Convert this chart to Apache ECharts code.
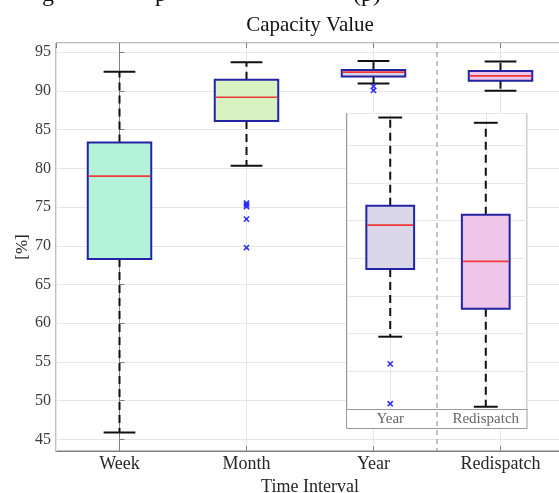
<!DOCTYPE html>
<html>
<head>
<meta charset="utf-8">
<script src="https://cdn.jsdelivr.net/npm/echarts@6/dist/echarts.min.js"></script>
<style>
  html, body { margin: 0; padding: 0; background: #ffffff; }
  #chart { width: 559px; height: 493px; }
</style>
</head>
<body>
<div id="chart"></div>
<script>
// Categories on the time-interval axis
const categories = ['Week', 'Month', 'Year', 'Redispatch'];
// Box statistics per category: [lower whisker, Q1, median, Q3, upper whisker] in %
const lowerWhisker = [45.9, 80.33, 90.96, 90.03];
const quartile1    = [68.3, 86.13, 91.86, 91.33];
const medians      = [79.0, 89.19, 92.44, 91.96];
const quartile3    = [83.35, 91.46, 92.70, 92.58];
const upperWhisker = [92.5, 93.71, 93.87, 93.80];
// Outliers per category in %
const outliers = [
  [],
  [75.51, 75.28, 75.07, 73.45, 69.78],
  [90.60, 90.07],
  []
];
// Categories repeated in the zoomed inset
const insetCategories = ['Year', 'Redispatch'];
const insetSource = [2, 3];

// Styling
const boxFills = ['#b4f3da', '#d9f2c1', '#d9d7e8', '#efc6e9'];
const SERIF = '"Liberation Serif", "DejaVu Serif", serif';
const EDGE = '#2424a2';
const MEDIAN = '#ee3a3a';

function boxRows(indices, xs) {
  return indices.map((k, j) => [xs[j], lowerWhisker[k], quartile1[k], medians[k], quartile3[k], upperWhisker[k]]);
}
function outlierRows(indices, xs) {
  const rows = [];
  indices.forEach((k, j) => outliers[k].forEach(v => rows.push([xs[j], v])));
  return rows;
}

function makeBoxRenderer(fillIndex) {
  return function (params, api) {
    const x = api.value(0);
    const pLo = api.coord([x, api.value(1)]);
    const pQ1 = api.coord([x, api.value(2)]);
    const pMed = api.coord([x, api.value(3)]);
    const pQ3 = api.coord([x, api.value(4)]);
    const pHi = api.coord([x, api.value(5)]);
    const boxW = api.size([0.5, 0])[0];
    const capW = api.size([0.25, 0])[0];
    const cx = pLo[0];
    const whisker = { stroke: '#111', lineWidth: 2, lineDash: [8, 5] };
    const cap = { stroke: '#111', lineWidth: 2 };
    return {
      type: 'group',
      children: [
        { type: 'line', shape: { x1: cx, y1: pQ3[1], x2: cx, y2: pHi[1] }, style: whisker },
        { type: 'line', shape: { x1: cx, y1: pQ1[1], x2: cx, y2: pLo[1] }, style: whisker },
        { type: 'line', shape: { x1: cx - capW / 2, y1: pHi[1], x2: cx + capW / 2, y2: pHi[1] }, style: cap },
        { type: 'line', shape: { x1: cx - capW / 2, y1: pLo[1], x2: cx + capW / 2, y2: pLo[1] }, style: cap },
        { type: 'rect', shape: { x: cx - boxW / 2, y: pQ3[1], width: boxW, height: pQ1[1] - pQ3[1] },
          style: { fill: boxFills[fillIndex(params.dataIndex)], stroke: EDGE, lineWidth: 2 } },
        { type: 'line', shape: { x1: cx - boxW / 2 + 1, y1: pMed[1], x2: cx + boxW / 2 - 1, y2: pMed[1] },
          style: { stroke: MEDIAN, lineWidth: 1.7 } }
      ]
    };
  };
}

function renderOutlier(params, api) {
  const p = api.coord([api.value(0), api.value(1)]);
  const r = 2.6;
  const st = { stroke: '#2b2bff', lineWidth: 1.5 };
  return {
    type: 'group',
    children: [
      { type: 'line', shape: { x1: p[0] - r, y1: p[1] - r, x2: p[0] + r, y2: p[1] + r }, style: st },
      { type: 'line', shape: { x1: p[0] - r, y1: p[1] + r, x2: p[0] + r, y2: p[1] - r }, style: st }
    ]
  };
}

// Dashed separator between the interval categories and the redispatch category
function renderSeparator(params, api) {
  const cs = params.coordSys;
  const x = (api.coord([insetSource[0], 50])[0] + api.coord([insetSource[1], 50])[0]) / 2;
  return {
    type: 'line',
    shape: { x1: x, y1: cs.y, x2: x, y2: cs.y + cs.height },
    style: { stroke: '#9a9a9a', lineWidth: 1.2, lineDash: [5, 4] }
  };
}

const mainX = categories.map((c, i) => i);
const insetX = insetCategories.map((c, i) => i);

const chart = echarts.init(document.getElementById('chart'), null, { renderer: 'canvas' });

const option = {
  animation: false,
  backgroundColor: '#ffffff',
  grid: [
    { left: 56, top: 43, width: 508, height: 408, outerBoundsMode: 'none', containLabel: false,
      show: true, borderColor: '#808080', borderWidth: 1, backgroundColor: 'transparent' },
    { left: 347, top: 113, width: 180, height: 296, outerBoundsMode: 'none', containLabel: false, show: false }
  ],
  xAxis: [
    {
      gridIndex: 0, type: 'value', min: -0.5, max: 3.5, minInterval: 1, maxInterval: 1,
      axisLine: { show: true, lineStyle: { color: '#808080' } },
      axisTick: { show: true, inside: true, length: 5, lineStyle: { color: '#808080' } },
      splitLine: { show: true, lineStyle: { color: '#e6e6e6', width: 1 } },
      axisLabel: {
        showMinLabel: false, showMaxLabel: false, margin: 4,
        fontFamily: SERIF, fontSize: 18, color: '#262626',
        formatter: v => (Number.isInteger(v) && categories[v]) ? categories[v] : ''
      },
      name: 'Time Interval', nameLocation: 'middle', nameGap: 27, nameMoveOverlap: false,
      nameTextStyle: { fontFamily: SERIF, fontSize: 18, color: '#262626' }
    },
    {
      // mirrored tick marks along the top edge of the frame
      gridIndex: 0, type: 'value', position: 'top', min: -0.5, max: 3.5, minInterval: 1, maxInterval: 1,
      axisLine: { show: false },
      axisTick: { show: true, inside: true, length: 5, lineStyle: { color: '#808080' } },
      splitLine: { show: false }, axisLabel: { show: false }
    },
    {
      gridIndex: 1, type: 'value', min: -0.4525, max: 1.4316, minInterval: 1, maxInterval: 1, z: 4,
      axisLine: { show: true, onZero: false, lineStyle: { color: '#9a9a9a' } },
      axisTick: { show: false },
      splitLine: { show: true, lineStyle: { color: '#e6e6e6', width: 1 } },
      axisLabel: {
        showMinLabel: false, showMaxLabel: false, margin: 3,
        fontFamily: SERIF, fontSize: 15, color: '#666666',
        formatter: v => (Number.isInteger(v) && insetCategories[v]) ? insetCategories[v] : ''
      }
    }
  ],
  yAxis: [
    {
      gridIndex: 0, type: 'value', min: 43.5, max: 96.2, minInterval: 5, maxInterval: 5,
      axisLine: { show: true, lineStyle: { color: '#808080' } },
      axisTick: { show: true, inside: true, length: 5, lineStyle: { color: '#808080' } },
      splitLine: { show: true, lineStyle: { color: '#e6e6e6', width: 1 } },
      axisLabel: { showMinLabel: false, showMaxLabel: false, margin: 5, fontFamily: SERIF, fontSize: 16, color: '#3a3a3a' },
      name: '[%]', nameLocation: 'middle', nameGap: 25, nameRotate: 90, nameMoveOverlap: false,
      nameTextStyle: { fontFamily: SERIF, fontSize: 17, color: '#262626' }
    },
    {
      gridIndex: 1, type: 'value', min: 90, max: 93.93, minInterval: 0.5, maxInterval: 0.5, z: 4,
      axisLine: { show: false }, axisTick: { show: false }, axisLabel: { show: false },
      splitLine: { show: true, lineStyle: { color: '#e8e8e8', width: 1 } }
    }
  ],
  graphic: [
    { type: 'rect', z: 3, shape: { x: 346.5, y: 113.5, width: 180.5, height: 315 },
      style: { fill: '#ffffff', stroke: '#9a9a9a', lineWidth: 1 } },
    { type: 'text', z: 3, x: 310, y: 15, style: { text: 'Capacity Value', font: '21px ' + SERIF, fill: '#111', textAlign: 'center' } },
    // bottom edge of the figure heading line above the chart
    { type: 'text', z: 3, x: 48, y: -17, style: { text: 'g', font: '24px ' + SERIF, fill: '#111', textAlign: 'center' } },
    { type: 'text', z: 3, x: 161, y: -17, style: { text: 'p', font: '24px ' + SERIF, fill: '#111', textAlign: 'center' } },
    { type: 'text', z: 3, x: 367, y: -17, style: { text: '(p)', font: '24px ' + SERIF, fill: '#111', textAlign: 'center' } }
  ],
  series: [
    { type: 'custom', xAxisIndex: 0, yAxisIndex: 0, z: 2, renderItem: makeBoxRenderer(i => i),
      data: boxRows(mainX, mainX), encode: { x: 0, y: [1, 2, 3, 4, 5] } },
    { type: 'custom', xAxisIndex: 0, yAxisIndex: 0, z: 2, renderItem: renderOutlier,
      data: outlierRows(mainX, mainX), encode: { x: 0, y: 1 } },
    { type: 'custom', xAxisIndex: 2, yAxisIndex: 1, z: 5, renderItem: makeBoxRenderer(i => insetSource[i]),
      data: boxRows(insetSource, insetX), encode: { x: 0, y: [1, 2, 3, 4, 5] } },
    { type: 'custom', xAxisIndex: 2, yAxisIndex: 1, z: 5, renderItem: renderOutlier,
      data: outlierRows(insetSource, insetX), encode: { x: 0, y: 1 } },
    { type: 'custom', xAxisIndex: 0, yAxisIndex: 0, z: 8, renderItem: renderSeparator, data: [[0]] }
  ]
};
chart.setOption(option);
</script>
</body>
</html>
